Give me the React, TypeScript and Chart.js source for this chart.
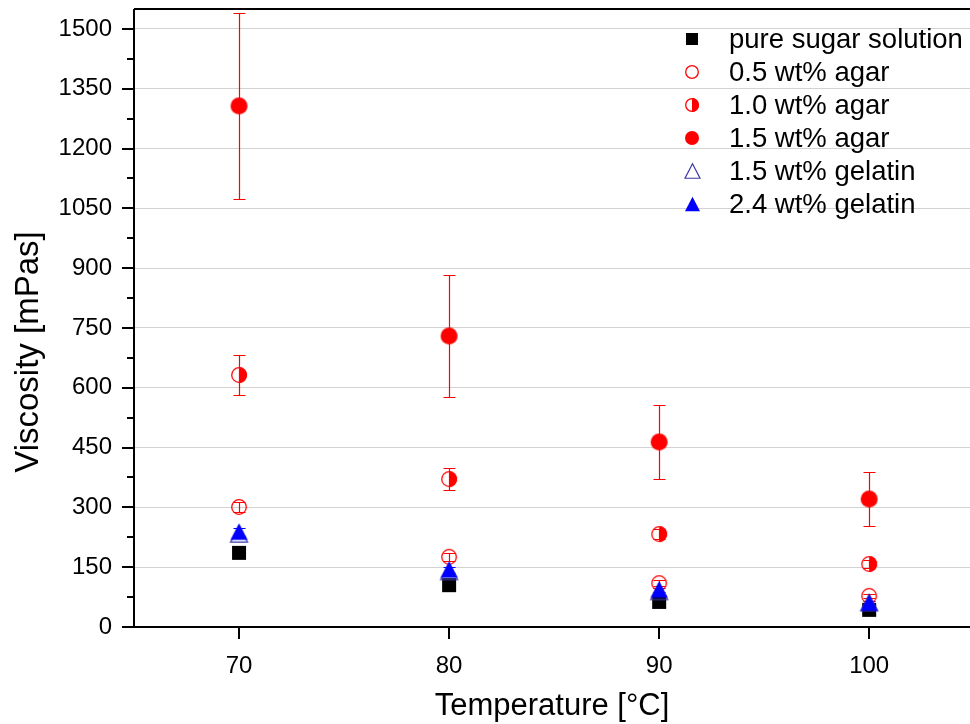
import React, { useEffect, useRef } from "react";
import { Chart, registerables } from "chart.js";

Chart.register(...registerables);

// ---- data ----
const temperatures = [70, 80, 90, 100];
const sugarPure = [186, 105, 63, 43];
const agar05 = [301, 176, 110, 78];
const agar05Err = [12, 10, 8, 6];
const agar10 = [632, 371, 233, 158];
const agar10Err = [50, 27, 12, 10];
const agar15 = [1307, 730, 464, 321];
const agar15Err = [234, 153, 93, 67];
const gelatin15 = [232, 138, 88, 60];
const gelatin24 = [238, 143, 93, 60];
const gelatin24Err = [10, 8, 6, 6];

const seriesLabels = [
  "pure sugar solution",
  "0.5 wt% agar",
  "1.0 wt% agar",
  "1.5 wt% agar",
  "1.5 wt% gelatin",
  "2.4 wt% gelatin",
];
const xTickValues = [70, 80, 90, 100];
const yTickValues = [0, 150, 300, 450, 600, 750, 900, 1050, 1200, 1350, 1500];
const yMinorValues = [75, 225, 375, 525, 675, 825, 975, 1125, 1275, 1425];

const FONT = "'Liberation Sans', Arial, sans-serif";
const RED = "#ff0000";
const BLUE = "#0000ff";

type Kind = "square" | "openCircle" | "halfCircle" | "filledCircle" | "openTriangle" | "filledTriangle";

function makeMarker(kind: Kind, size: number): HTMLCanvasElement {
  const pad = 2;
  const w = Math.ceil(size + pad * 2);
  const c = document.createElement("canvas");
  c.width = w;
  c.height = w;
  const ctx = c.getContext("2d")!;
  const cx = w / 2;
  const cy = w / 2;
  const r = size / 2;
  if (kind === "square") {
    ctx.fillStyle = "#000";
    ctx.fillRect(cx - r, cy - r, size, size);
  } else if (kind === "openCircle") {
    ctx.strokeStyle = RED;
    ctx.lineWidth = 1.3;
    ctx.beginPath();
    ctx.arc(cx, cy, r - 0.7, 0, Math.PI * 2);
    ctx.stroke();
  } else if (kind === "halfCircle") {
    ctx.fillStyle = RED;
    ctx.beginPath();
    ctx.moveTo(cx, cy - r);
    ctx.arc(cx, cy, r, -Math.PI / 2, Math.PI / 2);
    ctx.closePath();
    ctx.fill();
    ctx.strokeStyle = RED;
    ctx.lineWidth = 1.3;
    ctx.beginPath();
    ctx.arc(cx, cy, r - 0.7, 0, Math.PI * 2);
    ctx.stroke();
  } else if (kind === "filledCircle") {
    ctx.fillStyle = RED;
    ctx.beginPath();
    ctx.arc(cx, cy, r, 0, Math.PI * 2);
    ctx.fill();
  } else {
    const h = size * 0.9;
    ctx.beginPath();
    ctx.moveTo(cx, cy - h / 2 - 1);
    ctx.lineTo(cx + r, cy + h / 2);
    ctx.lineTo(cx - r, cy + h / 2);
    ctx.closePath();
    if (kind === "filledTriangle") {
      ctx.fillStyle = BLUE;
      ctx.fill();
    } else {
      ctx.strokeStyle = "#3a3aa8";
      ctx.lineWidth = 1.2;
      ctx.stroke();
    }
  }
  return c;
}

const kinds: Kind[] = ["square", "openCircle", "halfCircle", "filledCircle", "openTriangle", "filledTriangle"];
const dataSize: Record<Kind, number> = {
  square: 14,
  openCircle: 16,
  halfCircle: 16,
  filledCircle: 17,
  openTriangle: 17,
  filledTriangle: 17,
};
const legendSize: Record<Kind, number> = {
  square: 12,
  openCircle: 14,
  halfCircle: 14,
  filledCircle: 14,
  openTriangle: 15,
  filledTriangle: 15,
};

export default function App() {
  const ref = useRef<HTMLCanvasElement | null>(null);

  useEffect(() => {
    if (!ref.current) return;
    const seriesValues = [sugarPure, agar05, agar10, agar15, gelatin15, gelatin24];
    const seriesErr: (number[] | null)[] = [null, agar05Err, agar10Err, agar15Err, null, gelatin24Err];
    const errColors = ["#000", RED, RED, RED, "#3a3aa8", BLUE];
    const drawOrder = [5, 4, 3, 2, 1, 0];

    const datasets = seriesValues.map((vals, i) => ({
      label: seriesLabels[i],
      data: temperatures.map((t, j) => ({ x: t, y: vals[j] })),
      pointStyle: makeMarker(kinds[i], dataSize[kinds[i]]),
      pointRadius: 8,
      showLine: false,
      order: drawOrder[i],
      errors: seriesErr[i],
      errColor: errColors[i],
    }));

    const errorBars = {
      id: "errorBars",
      beforeDatasetsDraw(chart: any) {
        const ctx = chart.ctx;
        const xs = chart.scales.x;
        const ys = chart.scales.y;
        ctx.save();
        chart.data.datasets.forEach((ds: any) => {
          if (!ds.errors) return;
          ctx.strokeStyle = ds.errColor;
          ctx.lineWidth = 1.2;
          ds.data.forEach((p: any, j: number) => {
            const e = ds.errors[j];
            const x = Math.round(xs.getPixelForValue(p.x)) + 0.5;
            const yt = Math.round(ys.getPixelForValue(p.y + e)) + 0.5;
            const yb = Math.round(ys.getPixelForValue(p.y - e)) + 0.5;
            ctx.beginPath();
            ctx.moveTo(x, yt);
            ctx.lineTo(x, yb);
            ctx.moveTo(x - 6, yt);
            ctx.lineTo(x + 6, yt);
            ctx.moveTo(x - 6, yb);
            ctx.lineTo(x + 6, yb);
            ctx.stroke();
          });
        });
        ctx.restore();
      },
    };

    const frame = {
      id: "frame",
      afterDatasetsDraw(chart: any) {
        const ctx = chart.ctx;
        const a = chart.chartArea;
        const xs = chart.scales.x;
        const ys = chart.scales.y;
        ctx.save();
        ctx.strokeStyle = "#000";
        ctx.lineWidth = 2;
        ctx.beginPath();
        ctx.moveTo(a.left, a.top);
        ctx.lineTo(a.right, a.top);
        ctx.moveTo(a.left, a.top);
        ctx.lineTo(a.left, a.bottom);
        ctx.lineTo(a.right, a.bottom);
        ctx.stroke();
        // ticks
        ctx.beginPath();
        yTickValues.forEach((v) => {
          const y = Math.round(ys.getPixelForValue(v));
          ctx.moveTo(a.left - 12, y);
          ctx.lineTo(a.left, y);
        });
        yMinorValues.forEach((v) => {
          const y = Math.round(ys.getPixelForValue(v));
          ctx.moveTo(a.left - 7, y);
          ctx.lineTo(a.left, y);
        });
        xTickValues.forEach((v) => {
          const x = Math.round(xs.getPixelForValue(v));
          ctx.moveTo(x, a.bottom);
          ctx.lineTo(x, a.bottom + 12);
        });
        ctx.stroke();

        // axis titles
        ctx.fillStyle = "#000";
        ctx.textAlign = "center";
        ctx.textBaseline = "middle";
        ctx.font = `31px ${FONT}`;
        ctx.fillText("Temperature [°C]", (a.left + a.right) / 2, 706);
        ctx.save();
        ctx.translate(29, 352);
        ctx.rotate(-Math.PI / 2);
        ctx.font = `33px ${FONT}`;
        ctx.fillText("Viscosity [mPas]", 0, 0);
        ctx.restore();

        // legend
        ctx.font = `27.5px ${FONT}`;
        ctx.textAlign = "left";
        chart.data.datasets.forEach((ds: any, i: number) => {
          const y = 39 + i * 33;
          const m = makeMarker(kinds[i], legendSize[kinds[i]]);
          ctx.drawImage(m, Math.round(692 - m.width / 2), Math.round(y - m.height / 2));
          ctx.fillText(ds.label, 729, y + 1);
        });
        ctx.restore();
      },
    };

    const chart = new Chart(ref.current, {
      type: "scatter",
      data: { datasets: datasets as any },
      options: {
        animation: false,
        responsive: false,
        layout: { autoPadding: false, padding: { top: 9, right: 0, left: 0, bottom: 0 } },
        plugins: { legend: { display: false }, tooltip: { enabled: false } },
        scales: {
          x: {
            type: "linear",
            min: 65,
            max: 104.8,
            afterBuildTicks: (axis: any) => {
              axis.ticks = xTickValues.map((v) => ({ value: v }));
            },
            afterFit: (s: any) => {
              s.height = 97;
              s.paddingLeft = 0;
              s.paddingRight = 0;
            },
            grid: { display: false, drawTicks: false },
            border: { display: false },
            ticks: {
              color: "#000",
              padding: 25,
              font: { family: FONT, size: 24 },
              maxRotation: 0,
              callback: (v: any) => String(v),
            },
          },
          y: {
            type: "linear",
            min: 0,
            max: 1550,
            afterBuildTicks: (axis: any) => {
              axis.ticks = yTickValues.map((v) => ({ value: v }));
            },
            afterFit: (s: any) => {
              s.width = 134;
              s.paddingTop = 0;
              s.paddingBottom = 0;
            },
            grid: { color: "#d2d2d2", lineWidth: 1, drawTicks: false },
            border: { display: false },
            ticks: {
              color: "#000",
              padding: 22,
              font: { family: FONT, size: 24 },
              callback: (v: any) => String(v),
            },
          },
        },
      },
      plugins: [errorBars, frame],
    });
    return () => chart.destroy();
  }, []);

  return (
    <div style={{ position: "absolute", left: 0, top: 0, width: 970, height: 724, background: "#fff" }}>
      <canvas ref={ref} width={970} height={724} style={{ display: "block" }} />
    </div>
  );
}
